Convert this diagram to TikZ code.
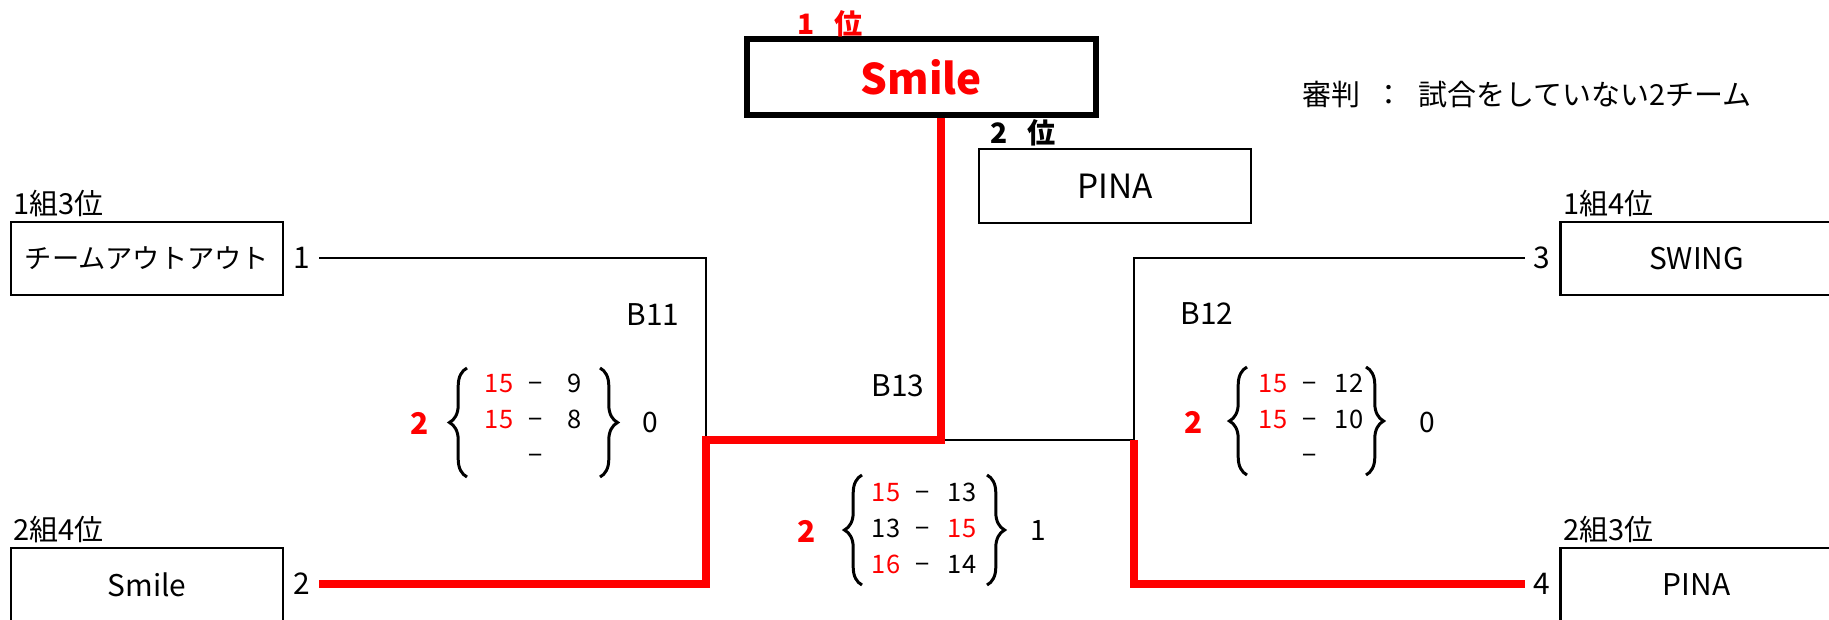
\documentclass[tikz,border=0pt]{standalone}
\usepackage{fontspec}
\setmainfont{Noto Sans CJK JP}
\usetikzlibrary{decorations.pathreplacing}

\newcommand{\fsz}[1]{\fontsize{#1}{#1}\selectfont}

\tikzset{
  team/.style={draw, line width=1.5pt, minimum width=5.44cm, minimum height=1.46cm, inner sep=0pt, font=\fsz{17pt}},
  final/.style={draw, line width=3pt, minimum width=6.98cm, minimum height=1.52cm, inner sep=0pt},
  grp/.style={anchor=south west, inner sep=2pt, font=\fsz{16.5pt}},
  place/.style={inner sep=0pt, font=\bfseries\fsz{16pt}},
  seed/.style={inner sep=5pt, font=\fsz{17pt}},
  loser/.style={line width=1.5pt},
  winner/.style={line width=4pt, red},
  match/.style={inner sep=0pt, font=\fsz{17pt}},
  score/.style={inner sep=0pt, text height=0.73em, text depth=0pt, font=\fsz{14.5pt}},
  sets/.style={inner sep=0pt, font=\fsz{16pt}},
  brace/.style={decorate, decoration={brace, amplitude=10pt}, line width=1.7pt},
}

\begin{document}
\begin{tikzpicture}[x=0.02cm, y=-0.02cm]
  \useasboundingbox (0,0) rectangle (1829,619);

  % teams
  \node[team, font=\fsz{15.5pt}] (t1) at (147,258.5) {チームアウトアウト};
  \node[team] (t2) at (147,584.5) {Smile};
  \node[team] (t3) at (1696.5,258.5) {SWING};
  \node[team] (t4) at (1696.5,584.5) {PINA};
  \node[grp] (g1) at (t1.north west) {1組3位};
  \node[grp] (g2) at (t2.north west) {2組4位};
  \node[grp] (g3) at (t3.north west) {1組4位};
  \node[grp] (g4) at (t4.north west) {2組3位};

  % final places
  \node[final, text=red, font=\bfseries\fsz{24pt}] (champ) at (921.5,77) {Smile};
  \node[draw, line width=1.6pt, minimum width=5.44cm, minimum height=1.48cm, font=\fsz{19pt}] (second) at (1115,186) {PINA};
  \node[place, red] (p1) at (830,24) {1\hspace{0.7em}位};
  \node[place] (p2) at (1023,133) {2\hspace{0.7em}位};
  \node[inner sep=0pt, font=\fsz{16.5pt}] (rule) at (1527,95) {審判\hspace{0.5em}：\hspace{0.5em}試合をしていない2チーム};

  % seeds
  \node[seed] (n1) at (302,258) {1};
  \node[seed] (n2) at (302,584) {2};
  \node[seed] (n3) at (1542,258) {3};
  \node[seed] (n4) at (1542,584) {4};

  % bracket
  \coordinate (b11) at (706,440);
  \coordinate (b13) at (941,440);
  \coordinate (b12) at (1134,440);
  \draw[loser] (n1.east) -| (b11);
  \draw[loser] (b13) -- (b12);
  \draw[loser] (n3.west) -| (b12);
  \draw[winner] (n2.east) -| (b11) -- (b13) -- (b13 |- champ.south);
  \draw[winner] (n4.west) -| (b12);

  % matches
  \node[match] (m11) at (653,315) {B11};
  \node[match] (m12) at (1207,314) {B12};
  \node[match] (m13) at (898,386) {B13};

  % scores
  \foreach \x/\y/\l/\r/\lc/\rc in {
    536/386/15/9/red/black, 536/422/15/8/red/black,
    1310/386/15/12/red/black, 1310/422/15/10/red/black,
    923/495/15/13/red/black, 923/531/13/15/black/red, 923/567/16/14/red/black}
  {
    \node[score, text=\lc] (s\x-\y-l) at (\x-37,\y) {\l};
    \node[score] (s\x-\y-d) at (\x,\y) {−};
    \node[score, text=\rc] (s\x-\y-r) at (\x+39,\y) {\r};
  }
  \node[score] (s536-458-d) at (536,458) {−};
  \node[score] (s1310-458-d) at (1310,458) {−};

  \node[sets, red, font=\bfseries\fsz{17pt}] (w11) at (420,423) {2};
  \node[sets] (l11) at (650,422) {0};
  \node[sets, red, font=\bfseries\fsz{17pt}] (w12) at (1194,422) {2};
  \node[sets] (l12) at (1427,422) {0};
  \node[sets, red, font=\bfseries\fsz{17pt}] (w13) at (807,531) {2};
  \node[sets] (l13) at (1038,530) {1};

  \draw[brace] (467,477) -- (467,368);
  \draw[brace] (600,368) -- (600,477);
  \draw[brace] (1247,475) -- (1247,367);
  \draw[brace] (1366,367) -- (1366,475);
  \draw[brace] (862,585) -- (862,475);
  \draw[brace] (987,475) -- (987,585);
\end{tikzpicture}
\end{document}
